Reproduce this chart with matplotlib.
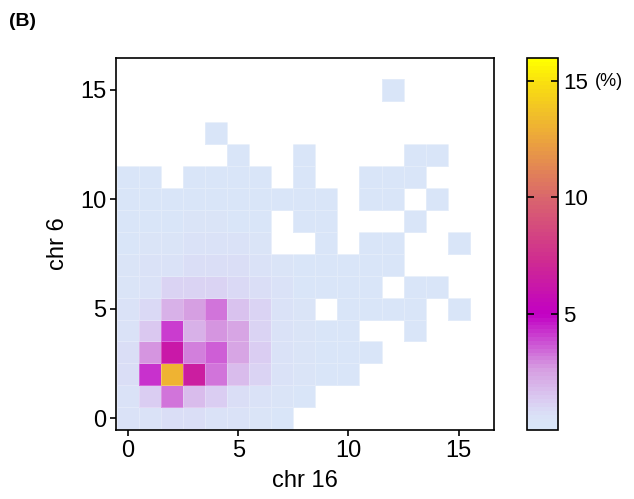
import numpy as np
import matplotlib
matplotlib.use("Agg")
import matplotlib.pyplot as plt
from matplotlib.colors import LinearSegmentedColormap

plt.rcParams['font.family'] = ['Liberation Sans', 'DejaVu Sans']

# bins of the two chromosome counts
chr16_bins = list(range(16))
chr6_bins = list(range(16))

# percentage per cell, one list per chr 6 value (None = no data)
_ = None
chr6_0 = [0.5, 0.5, 0.7, 0.7, 0.6, 0.5, 0.4, 0.3, _, _, _, _, _, _, _, _]
chr6_1 = [0.6, 1.3, 3.3, 1.8, 1.2, 0.8, 0.5, 0.4, 0.3, _, _, _, _, _, _, _]
chr6_2 = [0.7, 4.2, 13.0, 6.6, 3.3, 1.8, 1.0, 0.6, 0.4, 0.3, 0.3, _, _, _, _, _]
chr6_3 = [0.7, 2.8, 6.3, 3.0, 3.5, 2.4, 1.2, 0.6, 0.4, 0.3, 0.3, 0.2, _, _, _, _]
chr6_4 = [0.6, 1.4, 4.0, 2.0, 2.8, 2.4, 1.1, 0.6, 0.4, 0.3, 0.3, _, _, 0.2, _, _]
chr6_5 = [0.5, 0.9, 2.0, 2.6, 3.2, 1.5, 1.0, 0.6, 0.4, _, 0.3, 0.2, 0.2, 0.2, _, 0.2]
chr6_6 = [0.4, 0.6, 1.0, 1.1, 1.1, 0.9, 0.7, 0.5, 0.3, 0.3, 0.3, 0.2, _, 0.2, 0.2, _]
chr6_7 = [0.4, 0.5, 0.6, 0.8, 0.8, 0.7, 0.6, 0.4, 0.3, 0.3, 0.2, 0.2, 0.2, _, _, _]
chr6_8 = [0.3, 0.4, 0.4, 0.5, 0.5, 0.5, 0.4, _, _, 0.2, _, 0.2, 0.2, _, _, 0.2]
chr6_9 = [0.3, 0.3, 0.3, 0.4, 0.4, 0.3, 0.3, _, 0.2, 0.2, _, _, _, 0.2, _, _]
chr6_10 = [0.3, 0.3, 0.3, 0.3, 0.3, 0.3, 0.3, 0.2, 0.2, 0.2, _, 0.2, 0.2, _, 0.2, _]
chr6_11 = [0.2, 0.2, _, 0.2, 0.2, 0.2, 0.2, _, 0.2, _, _, 0.2, 0.2, 0.2, _, _]
chr6_12 = [_, _, _, _, _, 0.2, _, _, 0.2, _, _, _, _, 0.2, 0.2, _]
chr6_13 = [_, _, _, _, 0.2, _, _, _, _, _, _, _, _, _, _, _]
chr6_14 = [_] * 16
chr6_15 = [_, _, _, _, _, _, _, _, _, _, _, _, 0.2, _, _, _]

cbar_ticks = [5, 10, 15]

rows = [chr6_0, chr6_1, chr6_2, chr6_3, chr6_4, chr6_5, chr6_6, chr6_7,
        chr6_8, chr6_9, chr6_10, chr6_11, chr6_12, chr6_13, chr6_14, chr6_15]
grid = np.array([[np.nan if v is None else v for v in r] for r in rows], dtype=float)
grid = np.ma.masked_invalid(grid)

cmap = LinearSegmentedColormap.from_list("pct", [
    (0.0, "#d9e6f8"),
    (0.035, "#dae2f7"),
    (0.08, "#dacaf1"),
    (0.16, "#d69ee2"),
    (0.31, "#c200c4"),
    (0.45, "#cf2a92"),
    (0.62, "#d9646e"),
    (0.78, "#eba33e"),
    (0.93, "#f8dc12"),
    (1.0, "#ffff00"),
], N=96)

fig = plt.figure(figsize=(6.34, 4.99), dpi=100)
ax = fig.add_axes([0.183, 0.138, 0.596, 0.746])

x_edges = np.arange(len(chr16_bins) + 1) - 0.5
y_edges = np.arange(len(chr6_bins) + 1) - 0.5
mesh = ax.pcolormesh(x_edges, y_edges, grid, cmap=cmap, vmin=0, vmax=16,
                     edgecolors=(1, 1, 1, 0.25), linewidth=0.4)

ax.set_xlim(-0.55, 16.6)
ax.set_ylim(-0.55, 16.45)
ax.set_xticks([0, 5, 10, 15])
ax.set_yticks([0, 5, 10, 15])
ax.tick_params(labelsize=17, length=4, width=1.2, color='black', pad=3)
for s in ax.spines.values():
    s.set_linewidth(1.2)
ax.set_xlabel("chr 16", fontsize=17, labelpad=6)
ax.set_ylabel("chr 6", fontsize=17, labelpad=8)

cax = fig.add_axes([0.831, 0.138, 0.049, 0.746])
cb = fig.colorbar(mesh, cax=cax, ticks=cbar_ticks)
cb.outline.set_linewidth(1.2)
cax.tick_params(direction='in', left=True, right=True, length=5, width=1.2,
                labelsize=16, pad=4)
cax.text(2.2, 15, "(%)", transform=cax.get_yaxis_transform(), fontsize=13,
         va='center', ha='left')

fig.text(0.014, 0.947, "(B)", fontsize=14, fontweight='bold')

plt.savefig("out.png", dpi=100)
